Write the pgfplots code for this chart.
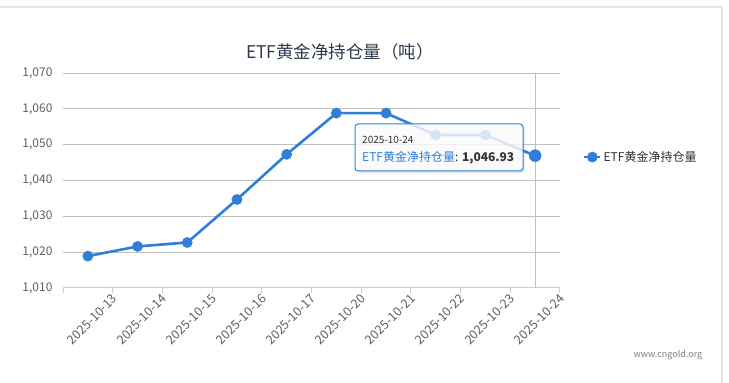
\documentclass[border=0pt]{standalone}
\usepackage{fontspec}
\setmainfont{Noto Sans CJK SC}
\usepackage{pgfplots}
\pgfplotsset{compat=1.18}
\definecolor{serie}{HTML}{2F7ED8}
\definecolor{gridc}{HTML}{C0C0C0}
\definecolor{axisc}{HTML}{C0D0E0}
\definecolor{labelc}{HTML}{606060}
\definecolor{titlec}{HTML}{2E3B4E}
\definecolor{darkt}{HTML}{333333}
\definecolor{borderc}{HTML}{E6E6E6}
\begin{document}
\begin{tikzpicture}
\useasboundingbox (0pt,0pt) rectangle (729pt,383pt);
\path[fill=white] (0pt,0pt) rectangle (729pt,383pt);
\draw[color=borderc, line width=1.5pt] (0pt,376pt) -- (722pt,376pt) -- (722pt,0pt);
\node[font=\fontsize{17.5}{20}\selectfont, text=titlec] at (340pt,331pt) {ETF黄金净持仓量（吨）};
\begin{axis}[
  at={(63pt,95pt)}, anchor=south west,
  scale only axis, width=497pt, height=215pt,
  xmin=-0.5, xmax=9.5, ymin=1010, ymax=1070,
  axis lines*=left,
  y axis line style={draw=none},
  x axis line style={draw=axisc, line width=1pt},
  xtick={-0.5,0.5,1.5,2.5,3.5,4.5,5.5,6.5,7.5,8.5,9.5},
  xticklabels={,2025-10-13,2025-10-14,2025-10-15,2025-10-16,2025-10-17,2025-10-20,2025-10-21,2025-10-22,2025-10-23,2025-10-24},
  x tick label style={rotate=45, anchor=east, font=\fontsize{12.5}{14}\selectfont, text=labelc, inner sep=1pt, yshift=-4pt},
  xtick style={draw=axisc, line width=1pt},
  tick align=outside,
  major tick length=5pt,
  ytick={1010,1020,...,1070},
  ytick style={draw=none},
  ymajorgrids,
  grid style={draw=gridc, line width=1pt},
  scaled y ticks=false,
  y tick label style={font=\fontsize{12}{14}\selectfont, text=labelc, xshift=-2pt,
    /pgf/number format/.cd, fixed, precision=0, 1000 sep={,}, assume math mode=true},
  legend style={at={(1.04,0.609)}, anchor=west, draw=none, fill=none,
    font=\fontsize{12}{14}\selectfont, text=darkt},
  legend image code/.code={\draw[mark repeat=2,mark phase=2,#1] plot coordinates {(0pt,0pt) (8pt,0pt) (16pt,0pt)};},
  clip=false,
]
\draw[color=gridc, line width=1pt] (axis cs:9,1010) -- (axis cs:9,1070);
\addplot[color=serie, line width=2.6pt, mark=*, mark size=4pt, mark options={solid}]
  coordinates {(0,1018.9) (1,1021.6) (2,1022.7) (3,1034.7) (4,1047.3) (5,1058.8) (6,1058.8) (7,1052.7) (8,1052.7) (9,1046.93)};
\addlegendentry{ETF黄金净持仓量}
\addplot[color=serie, only marks, mark=*, mark size=6pt, forget plot]
  coordinates {(9,1046.93)};
\end{axis}
\fill[black, opacity=0.08, rounded corners=3pt] (357pt,210pt) rectangle (525pt,257pt);
\draw[draw=serie, line width=1pt, fill=white, fill opacity=0.82, rounded corners=3pt] (355pt,212pt) rectangle (523pt,259pt);
\node[anchor=base west, font=\fontsize{10}{12}\selectfont, text=darkt, inner sep=0pt] at (362pt,239pt) {2025-10-24};
\node[anchor=base west, font=\fontsize{12}{14}\selectfont, text=darkt, inner sep=0pt] at (362pt,221pt) {\textcolor{serie}{ETF黄金净持仓量}: \textbf{1,046.93}};
\node[font=\fontsize{9}{11}\selectfont, text=labelc!80] at (668pt,28pt) {www.cngold.org};
\end{tikzpicture}
\end{document}
